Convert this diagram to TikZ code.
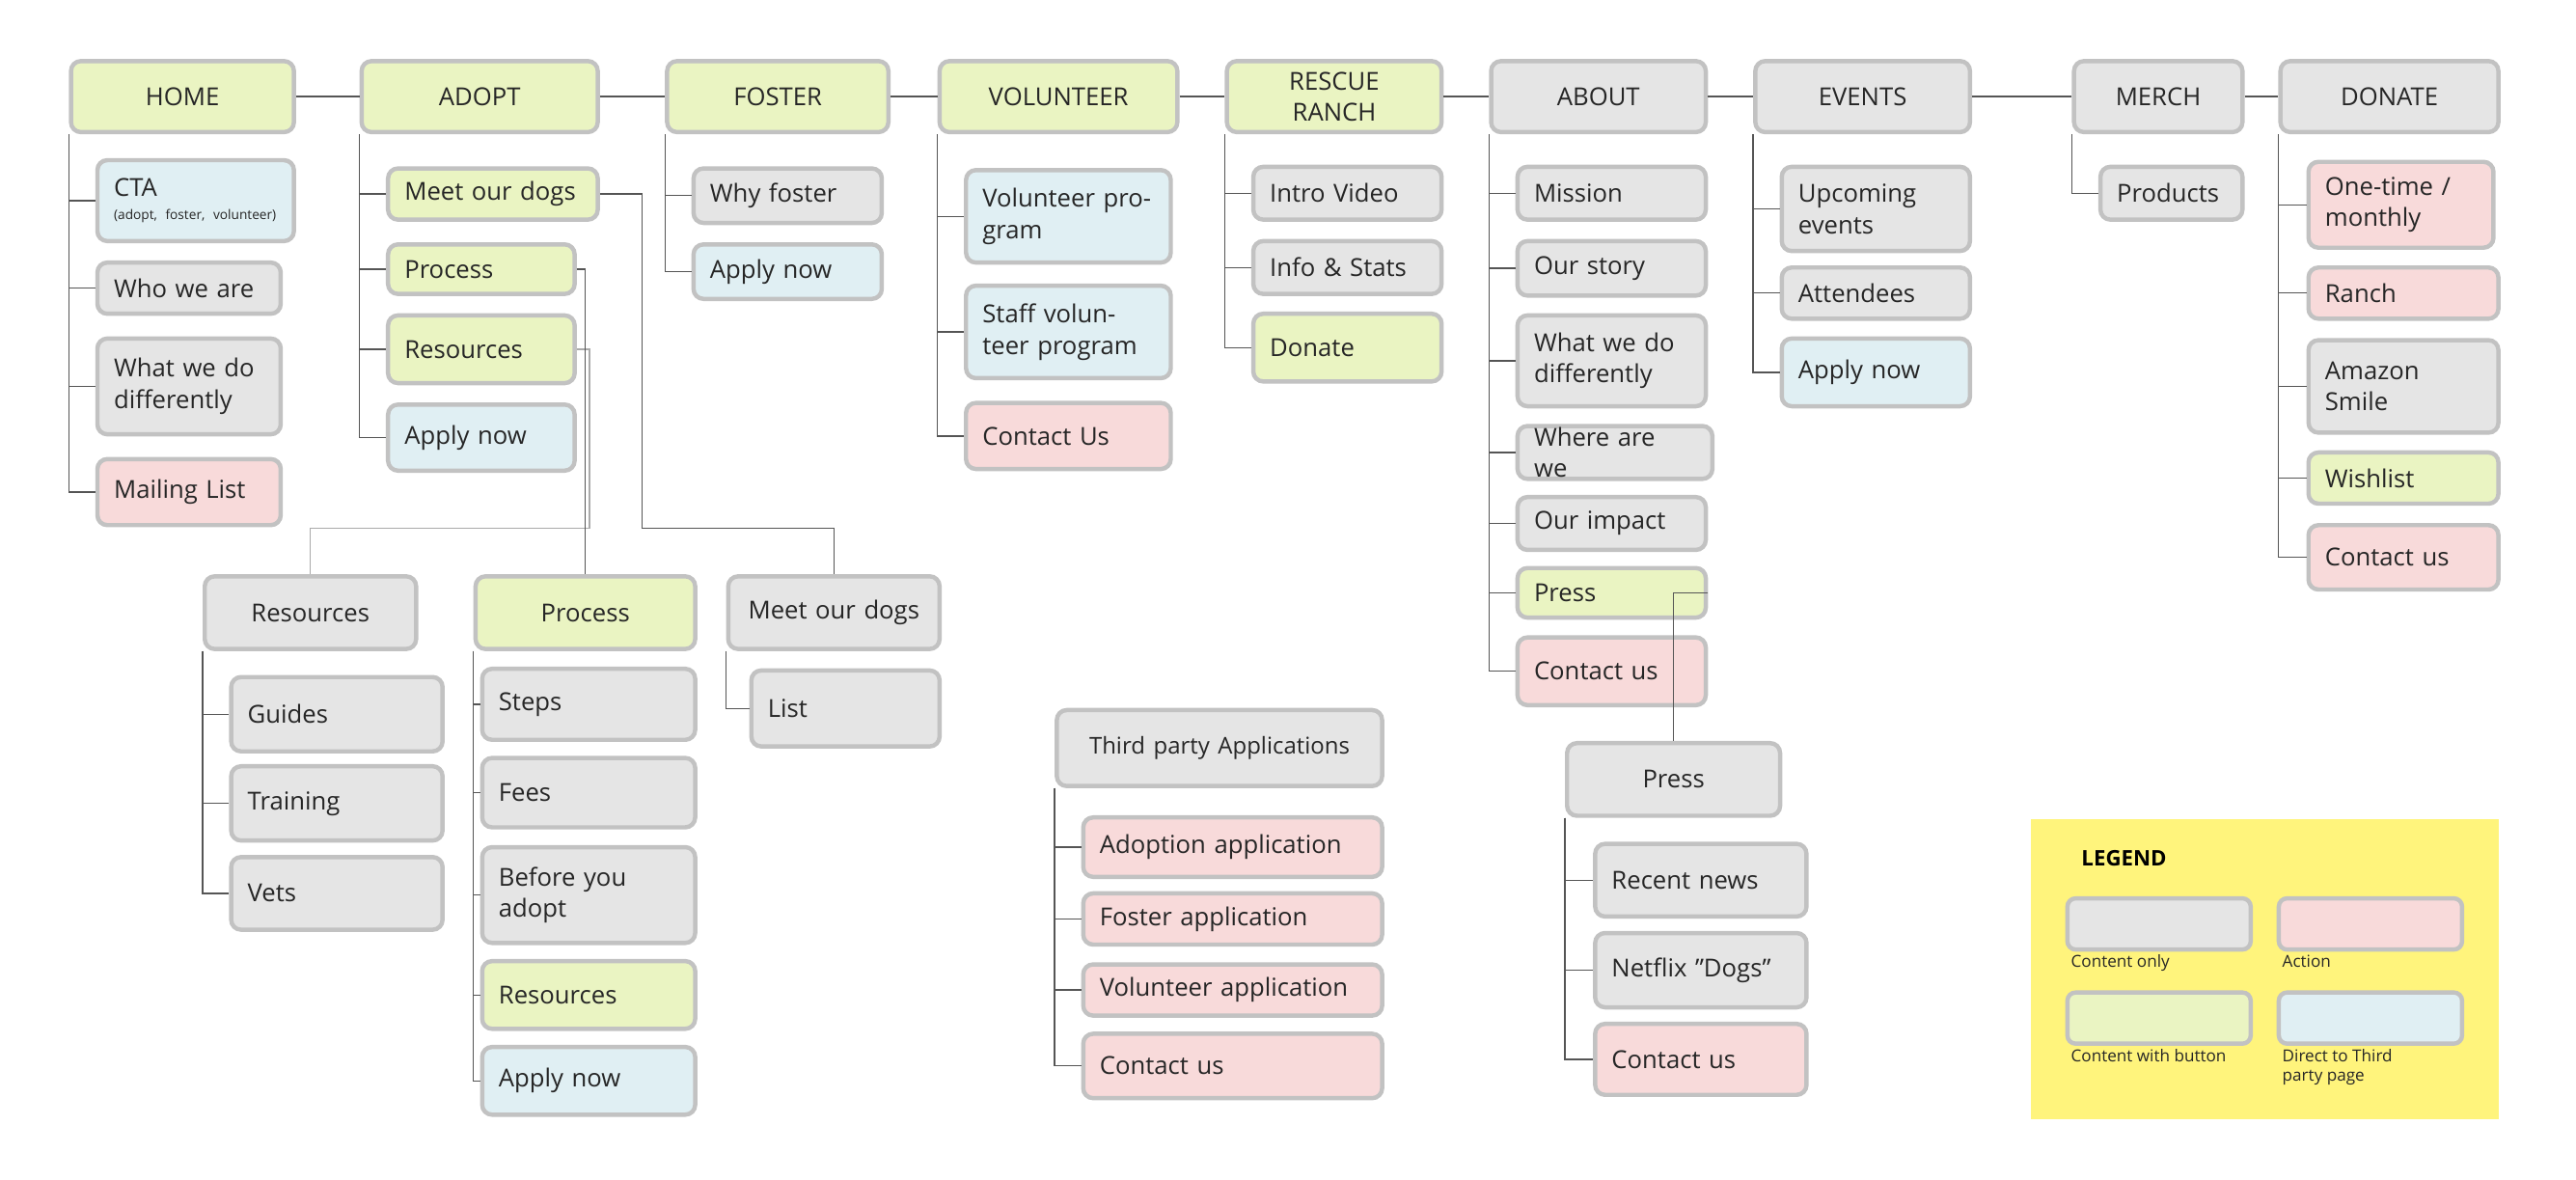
\documentclass[tikz,border=0pt]{standalone}
\usepackage{fontspec}
\setmainfont{Open Sans}
\definecolor{cg}{HTML}{EAF4C2}
\definecolor{cy}{HTML}{E5E5E5}
\definecolor{cb}{HTML}{E0EFF3}
\definecolor{cp}{HTML}{F8DADA}
\definecolor{bd}{HTML}{C2C2C2}
\definecolor{ln}{HTML}{555555}
\definecolor{lg}{HTML}{FFF47C}
\tikzset{
 box/.style={draw=bd,line width=2.6pt,rounded corners=6pt,inner sep=0pt,font=\fontsize{15}{19}\selectfont,text=black!85},
 hd/.style={box,align=center},
 ch/.style={box,align=left},
 fG/.style={fill=cg},fY/.style={fill=cy},fB/.style={fill=cb},fP/.style={fill=cp},
 con/.style={draw=ln,line width=0.8pt},
}
\newcommand\bx[8]{%
 \pgfmathsetmacro\bw{#4-#2}\pgfmathsetmacro\bh{#5-#3}%
 \pgfmathsetmacro\tw{#4-#2-20}%
 \node[#6,f#7,minimum width=\bw pt,minimum height=\bh pt,text width=\tw pt] (#1) at ({(#2+#4)/2},{(#3+#5)/2}) {#8};}
\newcommand\kids[2]{\foreach \c in {#2}{\draw[con] (#1.south west) |- (\c.west);}}
\begin{document}
\begin{tikzpicture}[x=1pt,y=-1pt]
\useasboundingbox (0,0) rectangle (1560,714);
% top headers
\bx{home}{43}{37}{178}{80}{hd}{G}{HOME}
\bx{adopt}{219}{37}{362}{80}{hd}{G}{ADOPT}
\bx{foster}{404}{37}{538}{80}{hd}{G}{FOSTER}
\bx{vol}{569}{37}{713}{80}{hd}{G}{VOLUNTEER}
\bx{ranch}{743}{37}{873}{80}{hd}{G}{RESCUE RANCH}
\bx{about}{903}{37}{1033}{80}{hd}{Y}{ABOUT}
\bx{events}{1063}{37}{1193}{80}{hd}{Y}{EVENTS}
\bx{merch}{1256}{37}{1358}{80}{hd}{Y}{MERCH}
\bx{donate}{1381}{37}{1513}{80}{hd}{Y}{DONATE}
\foreach \a/\b in {home/adopt,adopt/foster,foster/vol,vol/ranch,ranch/about,about/events,events/merch,merch/donate}{\draw[con] (\a.east) -- (\b.west);}
% home
\bx{cta}{59}{97}{178}{146}{ch}{B}{CTA\\[-5pt]{\fontsize{8}{9}\selectfont (adopt, foster, volunteer)}}
\bx{who}{59}{159}{170}{190}{ch}{Y}{Who we are}
\bx{what}{59}{205}{170}{263}{ch}{Y}{What we do differently}
\bx{mail}{59}{278}{170}{318}{ch}{P}{Mailing List}
\kids{home}{cta,who,what,mail}
% adopt
\bx{meet}{235}{102}{362}{133}{ch}{G}{Meet our dogs}
\bx{proc}{235}{148}{348}{178}{ch}{G}{Process}
\bx{res}{235}{191}{348}{232}{ch}{G}{Resources}
\bx{aapp}{235}{245}{348}{285}{ch}{B}{Apply now}
\kids{adopt}{meet,proc,res,aapp}
% foster
\bx{why}{420}{102}{534}{135}{ch}{Y}{Why foster}
\bx{fapp}{420}{148}{534}{181}{ch}{B}{Apply now}
\kids{foster}{why,fapp}
% volunteer
\bx{vp}{585}{103}{709}{159}{ch}{B}{Volunteer program}
\bx{svp}{585}{173}{709}{229}{ch}{B}{Staff volunteer program}
\bx{vc}{585}{244}{709}{284}{ch}{P}{Contact Us}
\kids{vol}{vp,svp,vc}
% ranch
\bx{intro}{759}{101}{873}{133}{ch}{Y}{Intro Video}
\bx{info}{759}{146}{873}{178}{ch}{Y}{Info \& Stats}
\bx{rdon}{759}{190}{873}{231}{ch}{G}{Donate}
\kids{ranch}{intro,info,rdon}
% about
\bx{mis}{919}{101}{1033}{133}{ch}{Y}{Mission}
\bx{story}{919}{146}{1033}{179}{ch}{Y}{Our story}
\bx{awhat}{919}{191}{1033}{246}{ch}{Y}{What we do differently}
\bx{where}{919}{258}{1037}{290}{ch}{Y}{Where are we}
\bx{imp}{919}{301}{1033}{333}{ch}{Y}{Our impact}
\bx{press}{919}{344}{1033}{374}{ch}{G}{Press}
\bx{acon}{919}{386}{1033}{427}{ch}{P}{Contact us}
\kids{about}{mis,story,awhat,where,imp,press,acon}
% events
\bx{up}{1079}{101}{1193}{152}{ch}{Y}{Upcoming events}
\bx{att}{1079}{162}{1193}{193}{ch}{Y}{Attendees}
\bx{eapp}{1079}{205}{1193}{246}{ch}{B}{Apply now}
\kids{events}{up,att,eapp}
% merch
\bx{prod}{1272}{101}{1358}{133}{ch}{Y}{Products}
\kids{merch}{prod}
% donate
\bx{one}{1398}{98}{1510}{150}{ch}{P}{One-time / monthly}
\bx{dran}{1398}{162}{1513}{193}{ch}{P}{Ranch}
\bx{amz}{1398}{206}{1513}{262}{ch}{Y}{Amazon Smile}
\bx{wish}{1398}{274}{1513}{305}{ch}{G}{Wishlist}
\bx{dcon}{1398}{318}{1513}{357}{ch}{P}{Contact us}
\kids{donate}{one,dran,amz,wish,dcon}
% second level
\bx{resh}{124}{349}{252}{393}{hd}{Y}{Resources}
\bx{guid}{140}{410}{268}{455}{ch}{Y}{Guides}
\bx{trai}{140}{464}{268}{509}{ch}{Y}{Training}
\bx{vets}{140}{519}{268}{563}{ch}{Y}{Vets}
\kids{resh}{guid,trai,vets}
\bx{proch}{288}{349}{421}{393}{hd}{G}{Process}
\bx{steps}{292}{405}{421}{448}{ch}{Y}{Steps}
\bx{fees}{292}{459}{421}{501}{ch}{Y}{Fees}
\bx{bef}{292}{513}{421}{571}{ch}{Y}{Before you adopt}
\bx{pres}{292}{582}{421}{623}{ch}{G}{Resources}
\bx{papp}{292}{634}{421}{675}{ch}{B}{Apply now}
\kids{proch}{steps,fees,bef,pres,papp}
\bx{meeth}{441}{349}{569}{393}{hd}{Y}{Meet our dogs}
\bx{list}{455}{406}{569}{452}{ch}{Y}{List}
\kids{meeth}{list}
\coordinate (r1) at (357,320);
\coordinate (m1) at (389,320);
\draw[con,draw=ln!50] (res.east) -| (r1) -| (resh.north);
\draw[con] (proc.east) -| (proch.north);
\draw[con] (meet.east) -| (m1) -| (meeth.north);
% third party
\bx{tp}{640}{430}{837}{476}{hd}{Y}{\fontsize{14}{17}\selectfont Third party Applications}
\bx{ad}{656}{495}{837}{531}{ch}{P}{Adoption application}
\bx{fa}{656}{541}{837}{572}{ch}{P}{Foster application}
\bx{va}{656}{584}{837}{615}{ch}{P}{Volunteer application}
\bx{tc}{656}{626}{837}{665}{ch}{P}{Contact us}
\kids{tp}{ad,fa,va,tc}
% press
\bx{pressh}{949}{450}{1078}{494}{hd}{Y}{Press}
\bx{rn}{966}{511}{1094}{555}{ch}{Y}{Recent news}
\bx{nf}{966}{565}{1094}{610}{ch}{Y}{Netflix "Dogs"}
\bx{pc}{966}{620}{1094}{663}{ch}{P}{Contact us}
\kids{pressh}{rn,nf,pc}
\draw[con] (press.east) -| (pressh.north);
% legend
\node[fill=lg,minimum width=283pt,minimum height=182pt,inner sep=0pt] (leg) at (1371.5,587) {};
\node[font=\fontsize{13}{15}\selectfont\bfseries,anchor=west] (legt) at (1257,520) {LEGEND};
\tikzset{lb/.style={draw=bd,line width=2.6pt,rounded corners=5pt,minimum width=111pt,minimum height=31pt,inner sep=0pt},
 lt/.style={font=\fontsize{10}{12}\selectfont,anchor=north west,align=left,inner sep=0pt,text=black!85}}
\node[lb,fY] (l1) at (1307.5,559.5) {};
\node[lb,fP] (l2) at (1435.5,559.5) {};
\node[lb,fG] (l3) at (1307.5,616.5) {};
\node[lb,fB] (l4) at (1435.5,616.5) {};
\node[lt] (t1) at (1254,578) {Content only};
\node[lt] (t2) at (1382,578) {Action};
\node[lt] (t3) at (1254,635) {Content with button};
\node[lt] (t4) at (1382,635) {Direct to Third\\party page};
\end{tikzpicture}
\end{document}
